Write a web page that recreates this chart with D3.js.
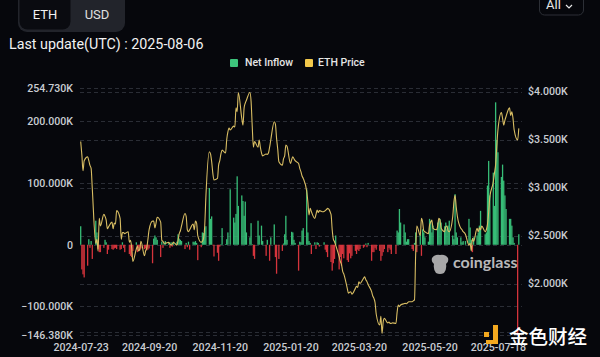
<!DOCTYPE html>
<html><head><meta charset="utf-8">
<script src="https://cdn.jsdelivr.net/npm/d3@7"></script>
<style>
html,body{margin:0;padding:0;background:#06070c;overflow:hidden;}
svg{display:block;font-family:Roboto,"Noto Sans",sans-serif;}
</style></head>
<body>
<svg id="chart" width="600" height="357"></svg>
<script>
// ---- DATA ----
const startDate = "2024-07-23";
const endDate = "2025-08-05";
const xTickLabels = ["2024-07-23","2024-09-20","2024-11-20","2025-01-20","2025-03-20","2025-05-20","2025-07-18"];
const leftTicks = [254.73, 200, 100, 0, -100, -146.38];
const rightTicks = [4000, 3500, 3000, 2500, 2000, 1500];
const rightLabelTicks = [4000, 3500, 3000, 2500, 2000];
// Net inflow (thousand ETH), one value per weekday (Mon-Fri), week by week
const netInflow = [
  30,-40,-48,-53,
  -34,9,-5,6,-23,
  39,20,-7,-12,-12,
  -5,8,4,-15,-8,
  -7,-8,-6,-5,-7,
  -8,-7,4,-5,-12,
  0,-15,-18,-20,-10,
  4,-12,-6,-9,-6,
  -7,-6,-9,-8,-6,
  -30,10,15,12,8,
  -20,5,-5,3,6,
  3,-5,4,-3,5,
  5,17,10,8,6,
  -7,3,-4,5,-8,
  5,4,6,3,-25,
  -4,20,19,27,30,
  92,42,46,-1,-19,
  -13,-26,-3,1,27,
  1,9,20,0,90,
  44,36,50,111,63,
  80,71,47,70,20,
  12,35,1,-18,-23,
  39,15,0,31,6,
  -18,8,0,-26,12,
  33,-20,-47,0,-23,
  -10,2,17,47,8,
  0,21,20,8,3,
  -42,5,4,23,27,
  90,20,6,3,-15,
  4,-7,4,3,-3,
  0,4,-8,-12,-20,
  -28,-42,-30,-23,15,
  -40,-20,-34,-15,-22,
  -25,-28,-14,-22,-18,
  -10,-15,-8,-10,-7,
  -5,-3,2,-4,3,
  -26,-12,-12,-5,-8,
  -10,-26,-18,-12,-7,
  -12,-5,-8,-15,0,
  -15,23,20,58,36,
  33,20,5,9,9,
  -7,-10,3,20,-12,
  17,-18,25,20,12,
  5,42,39,20,31,
  0,36,39,42,36,
  30,36,25,31,39,
  15,9,82,20,12,
  12,4,6,0,6,
  42,28,8,-12,12,
  15,20,31,55,0,
  17,20,96,136,80,
  117,63,231,170,150,
  110,130,104,80,58,
  42,42,31,12,3,
  -146.38,17
];
// ETH price (USD), same days
const ethPrice = [
  3480,3340,3175,3280,
  3320,3280,3230,3200,2990,
  2420,2460,2340,2680,2600,
  2720,2700,2660,2570,2590,
  2640,2570,2630,2620,2760,
  2680,2460,2530,2530,2520,
  2540,2430,2450,2370,2230,
  2360,2390,2340,2360,2440,
  2290,2340,2370,2460,2560,
  2650,2650,2580,2630,2690,
  2640,2450,2440,2420,2420,
  2430,2410,2400,2410,2430,
  2400,2450,2520,2550,2600,
  2730,2700,2560,2540,2560,
  2620,2560,2650,2630,2500,
  2430,2440,2470,2600,2900,
  3373,3350,3270,3150,3078,
  3095,3234,3280,3350,3390,
  3360,3500,3580,3620,3600,
  3640,3630,3830,3790,3990,
  3720,3650,3830,3880,3910,
  3990,3900,3640,3420,3480,
  3420,3495,3420,3360,3330,
  3350,3345,3360,3420,3495,
  3686,3660,3512,3400,3269,
  3234,3300,3330,3443,3430,
  3252,3290,3321,3300,3280,
  3250,3200,3165,3120,3095,
  2960,2852,2714,2783,2750,
  2679,2720,2766,2740,2760,
  2748,2750,2760,2770,2783,
  2720,2560,2460,2436,2400,
  2280,2230,2200,2130,2100,
  1950,1900,1910,1915,1890,
  1950,1970,1960,2019,2000,
  2054,2070,2040,2020,1990,
  1915,1870,1846,1800,1680,
  1568,1660,1481,1600,1637,
  1590,1600,1585,1585,1590,
  1585,1700,1776,1760,1776,
  1790,1793,1790,1800,1811,
  1811,1820,1830,2300,2600,
  2500,2679,2640,2550,2540,
  2520,2609,2640,2662,2575,
  2560,2600,2679,2660,2575,
  2540,2592,2600,2550,2540,
  2697,2850,2920,2800,2700,
  2575,2560,2540,2530,2510,
  2400,2420,2340,2470,2440,
  2575,2540,2580,2560,2600,
  2540,2560,2620,2740,2900,
  3060,3150,3240,3430,3600,
  3780,3720,3650,3700,3740,
  3830,3750,3790,3720,3600,
  3495,3616
];

// ---- CATEGORIES (weekdays) ----
const parse = d3.utcParse("%Y-%m-%d");
const fmt = d3.utcFormat("%Y-%m-%d");
const days = d3.utcDay.range(parse(startDate), d3.utcDay.offset(parse(endDate),1))
  .filter(d => d.getUTCDay() !== 0 && d.getUTCDay() !== 6);
const rows = days.map((d,i) => ({date:d, flow:netInflow[i], price:ethPrice[i]}));

// ---- SCALES ----
const svg = d3.select("#chart");
const plotL = 80, plotR = 522, yTop = 87.7, yBot = 335;
const x = d3.scaleUtc().domain([parse(startDate), parse(endDate)]).range([80.7, 518.8]);
const yL = d3.scaleLinear().domain([-146.38, 254.73]).range([yBot, yTop]);
const yR = d3.scaleLinear().domain([1464, 4040]).range([yBot, yTop]);

// ---- HEADER ----
const tabs = svg.append("g");
tabs.append("rect").attr("x",18).attr("y",-10).attr("width",107).attr("height",42).attr("rx",9).attr("fill","#22242b");
tabs.append("rect").attr("x",19.5).attr("y",-10).attr("width",51).attr("height",39.5).attr("rx",8).attr("fill","#0a0b10");
tabs.append("text").attr("x",45).attr("y",16).attr("text-anchor","middle").attr("dominant-baseline","middle")
  .attr("font-size",13).attr("fill","#f2f2f2").text("ETH");
tabs.append("text").attr("x",97).attr("y",16).attr("text-anchor","middle").attr("dominant-baseline","middle")
  .attr("font-size",13).attr("fill","#e0e0e0").text("USD");
svg.append("text").attr("x",9).attr("y",49).attr("font-size",14.3).attr("fill","#f2f2f2").text("Last update(UTC) : 2025-08-06");
// All dropdown
svg.append("rect").attr("x",539.5).attr("y",-8).attr("width",44).attr("height",23).attr("rx",5)
  .attr("fill","#06070c").attr("stroke","#2c2f36");
svg.append("text").attr("x",546).attr("y",6).attr("font-size",13).attr("fill","#e8e8e8").attr("dominant-baseline","middle").text("All");
svg.append("path").attr("d","M566,5 L569,8 L572,5").attr("fill","none").attr("stroke","#e8e8e8").attr("stroke-width",1.2);

// Legend
svg.append("rect").attr("x",230).attr("y",59).attr("width",8).attr("height",8).attr("rx",1).attr("fill","#3dc47c");
svg.append("text").attr("x",245).attr("y",63).attr("dominant-baseline","middle").attr("font-size",10.5).attr("font-weight",500).attr("fill","#e6e6e6").text("Net Inflow");
svg.append("rect").attr("x",305).attr("y",59).attr("width",8).attr("height",8).attr("rx",1).attr("fill","#f2c84b");
svg.append("text").attr("x",318).attr("y",63).attr("dominant-baseline","middle").attr("font-size",10.5).attr("font-weight",500).attr("fill","#e6e6e6").text("ETH Price");

// ---- GRID ----
const grid = svg.append("g").attr("stroke","#2a2d35").attr("stroke-dasharray","4,3").attr("stroke-width",1);
leftTicks.forEach(t => grid.append("line").attr("x1",plotL).attr("x2",plotR).attr("y1",Math.round(yL(t))+0.5).attr("y2",Math.round(yL(t))+0.5));
rightTicks.forEach(t => grid.append("line").attr("x1",plotL).attr("x2",plotR).attr("y1",Math.round(yR(t))+0.5).attr("y2",Math.round(yR(t))+0.5));

// ---- AXES ----
const lab = "#c9ccd2";
const leftAxis = d3.axisLeft(yL).tickValues(leftTicks).tickSize(0).tickPadding(7)
  .tickFormat(v => v === 0 ? "0" : d3.format(".3f")(v) + "K");
const gL = svg.append("g").attr("transform",`translate(${plotL},0)`).call(leftAxis);
gL.select(".domain").remove();
gL.selectAll("text").attr("fill",lab).attr("font-size",10.6).attr("font-weight",500).attr("font-family","Roboto");

const rightAxis = d3.axisRight(yR).tickValues(rightLabelTicks).tickSize(0).tickPadding(6)
  .tickFormat(v => "$" + d3.format(".3f")(v/1000) + "K");
const gR = svg.append("g").attr("transform",`translate(${plotR},0)`).call(rightAxis);
gR.select(".domain").remove();
gR.selectAll("text").attr("fill",lab).attr("font-size",10.6).attr("font-weight",500).attr("font-family","Roboto");

const bottomAxis = d3.axisBottom(x).tickValues(xTickLabels.map(parse)).tickSize(0).tickPadding(8).tickFormat(fmt);
const gB = svg.append("g").attr("transform",`translate(0,${yBot})`).call(bottomAxis);
gB.select(".domain").remove();
gB.selectAll("text").attr("fill",lab).attr("font-size",10.6).attr("font-weight",500).attr("font-family","Roboto");

// ---- BARS ----
svg.append("g").selectAll("rect").data(rows.filter(r => r.flow !== 0)).join("rect")
  .attr("x", d => x(d.date) - 0.65)
  .attr("width", 1.3)
  .attr("y", d => yL(Math.max(0, d.flow)))
  .attr("height", d => Math.abs(yL(d.flow) - yL(0)))
  .attr("fill", d => d.flow >= 0 ? "#37bd77" : "#d5343c");

// ---- PRICE LINE ----
const line = d3.line().x(d => x(d.date)).y(d => yR(d.price)).curve(d3.curveMonotoneX);
svg.append("path").datum(rows).attr("d", line).attr("fill","none").attr("stroke","#d8bd63").attr("stroke-width",1.1);

// ---- WATERMARKS ----
const wm = svg.append("g").attr("opacity",0.85);
wm.append("path").attr("d","M432,258 q3,-4 8,-3 q5,-1 8,3 q1,4 -2,6 q1,5 -2,9 q-4,2 -8,0 q-3,-4 -2,-9 q-3,-2 -2,-6 z").attr("fill","#c4c4c4");
wm.append("text").attr("x",453).attr("y",264).attr("dominant-baseline","middle").attr("font-family","Lato").attr("font-weight",700)
  .attr("font-size",16).attr("fill","#d8d8d8").text("coinglass");
const jb = svg.append("g");
jb.append("rect").attr("x",484).attr("y",332).attr("width",5).attr("height",5).attr("fill","#f3a81f");
jb.append("path").attr("d","M493,325 h5 v19 h-12 v-4 h7 z").attr("fill","#f3a81f");
jb.append("text").attr("x",509).attr("y",344).attr("font-family","Noto Sans CJK SC").attr("font-weight",500)
  .attr("font-size",19.5).attr("fill","#ffffff").text("金色财经");
</script>
</body></html>
